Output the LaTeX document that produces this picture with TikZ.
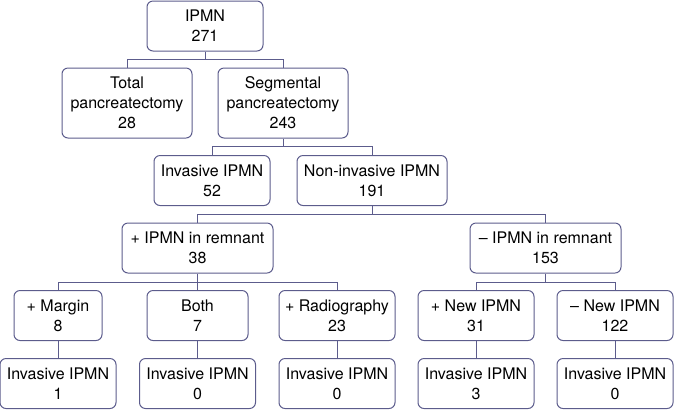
\documentclass[tikz,border=0pt]{standalone}
\usepackage{fontspec}
\setmainfont{TeX Gyre Heros}
\usepackage{tikz}
\usetikzlibrary{calc,positioning}
\definecolor{boxline}{RGB}{92,92,140}

\begin{document}
\begin{tikzpicture}[x=0.5pt,y=-0.5pt,
		box/.style={draw=boxline,line width=0.5pt,rounded corners=3pt,align=center,inner sep=0pt,
			font=\fontsize{8}{10}\selectfont,minimum height=25pt,minimum width=58pt},
		link/.style={draw=boxline,line width=0.5pt}]
		\useasboundingbox (0,0) rectangle (674,409);
		% top of the tree
		\node(ipmn) [box] at (205,26) {IPMN\\271};
		\node(total) [box,minimum width=65pt,minimum height=35pt] at (127,103) {Total\\pancreatectomy\\28};
		\node(seg) [box,minimum width=65pt,minimum height=35pt] at (283,103) {Segmental\\pancreatectomy\\243};
		\node(inv) [box] at (212,180.5) {Invasive IPMN\\52};
		\node(noninv) [box,minimum width=75pt] at (372,180.5) {Non-invasive IPMN\\191};
		% remnant
		\node(plus) [box,minimum width=75.5pt] at (197.5,248) {+ IPMN in remnant\\38};
		\node(minus) [box,minimum width=75.5pt] at (545.5,248) {-- IPMN in remnant\\153};
		\node(margin) [box,minimum width=44pt] at (58,315.5) {+ Margin\\8};
		\node(both) [box,minimum width=50.5pt] at (197.5,315.5) {Both\\7};
		\node(radio) [box] at (337,315.5) {+ Radiography\\23};
		\node(newp) [box] at (476,315.5) {+ New IPMN\\31};
		\node(newm) [box] at (615,315.5) {-- New IPMN\\122};
		% invasive leaves
		\node(invA) [box,below=8.5pt of margin] {Invasive IPMN\\1};
		\node(invB) [box,below=8.5pt of both] {Invasive IPMN\\0};
		\node(invC) [box,below=8.5pt of radio] {Invasive IPMN\\0};
		\node(invD) [box,below=8.5pt of newp] {Invasive IPMN\\3};
		\node(invE) [box,below=8.5pt of newm] {Invasive IPMN\\0};
		\path[link] (ipmn.south) -- ++(0,8) -| (total.north)
			(ipmn.south) -- ++(0,8) -| (seg.north)
			(seg.south) -- ++(0,8) -| (inv.north)
			(seg.south) -- ++(0,8) -| (noninv.north)
			(noninv.south) -- ++(0,8) -| (plus.north)
			(noninv.south) -- ++(0,8) -| (minus.north)
			(plus.south) -- ++(0,9) -| (margin.north)
			(plus.south) -- (both.north)
			(plus.south) -- ++(0,9) -| (radio.north)
			(minus.south) -- ++(0,9) -| (newp.north)
			(minus.south) -- ++(0,9) -| (newm.north);
		\foreach \a/\b in {margin/invA,both/invB,radio/invC,newp/invD,newm/invE}
			\draw[link] (\a) -- (\b);
	\end{tikzpicture}
\end{document}
